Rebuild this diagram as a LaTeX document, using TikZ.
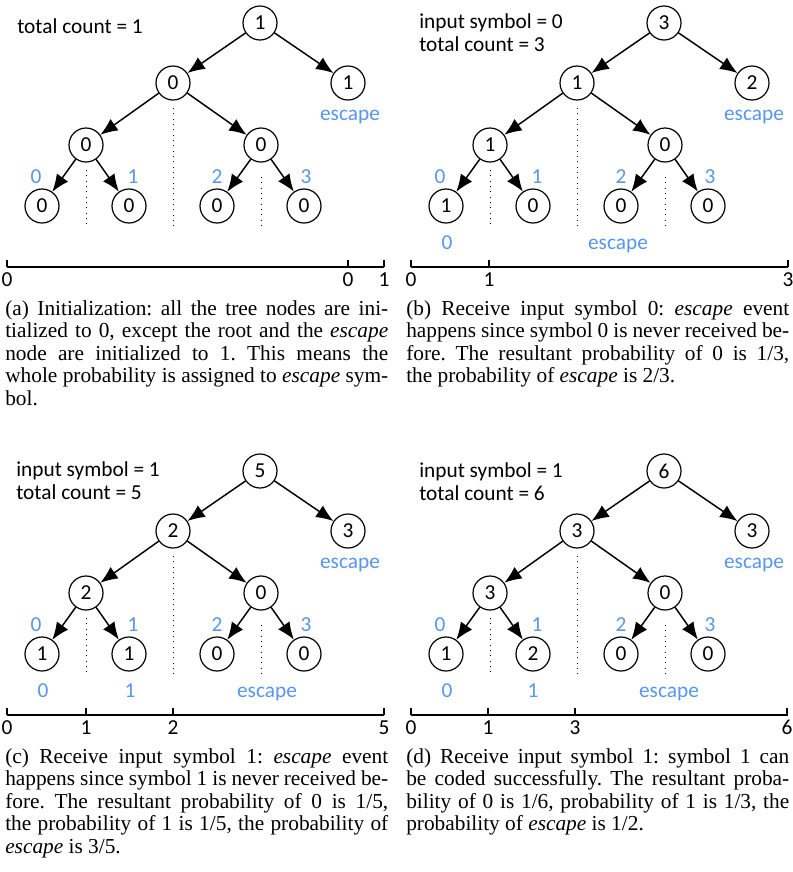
\documentclass[tikz,border=0pt]{standalone}
\usepackage{fontspec}
\setmainfont{Liberation Serif}
\newfontfamily\sansf{Carlito}
\usetikzlibrary{arrows.meta}
\frenchspacing
\definecolor{escblue}{RGB}{88,150,240}
\tikzset{
  cnode/.style={circle,draw,line width=0.9pt,minimum size=25.5pt,inner sep=0pt,font=\sansf\fontsize{16}{19}\selectfont},
  treeedge/.style={line width=1.1pt,-{Latex[length=13pt,width=10.5pt]}},
  divider/.style={line width=0.7pt,dash pattern=on 0.6pt off 3.4pt},
  bluelab/.style={anchor=base,text=escblue,font=\sansf\fontsize{16}{19}\selectfont,inner sep=0pt},
  info/.style={anchor=base west,font=\sansf\fontsize{16}{19}\selectfont,inner sep=0pt},
  axisline/.style={line width=1pt},
  axislab/.style={anchor=base,font=\sansf\fontsize{16}{19}\selectfont,inner sep=0pt},
  capline/.style={anchor=base west,inner sep=0pt,font=\fontsize{16}{17}\selectfont},
}
\newcommand\drawtree[9]{%
  \node[cnode] (r) at (260,23) {#1};
  \node[cnode] (l) at (173,83) {#2};
  \node[cnode] (e) at (348,83) {#3};
  \node[cnode] (la) at (86,145) {#4};
  \node[cnode] (lb) at (261,145) {#5};
  \node[cnode] (s0) at (42,206) {#6};
  \node[cnode] (s1) at (129,206) {#7};
  \node[cnode] (s2) at (217,206) {#8};
  \node[cnode] (s3) at (304,206) {#9};
  \draw[treeedge] (r) -- (l);
  \draw[treeedge] (r) -- (e);
  \draw[treeedge] (l) -- (la);
  \draw[treeedge] (l) -- (lb);
  \draw[treeedge] (la) -- (s0);
  \draw[treeedge] (la) -- (s1);
  \draw[treeedge] (lb) -- (s2);
  \draw[treeedge] (lb) -- (s3);
  \node[bluelab] (esc) at (350,120) {escape};
  \node[bluelab] (t0) at (36,183) {0};
  \node[bluelab] (t1) at (133,183) {1};
  \node[bluelab] (t2) at (217,183) {2};
  \node[bluelab] (t3) at (306,183) {3};
  \draw[divider] (86,170) -- (86,228);
  \draw[divider] (173,108) -- (173,228);
  \draw[divider] (261,177) -- (261,228);
  \coordinate (axA) at (7,267);
  \coordinate (axB) at (384,267);
  \draw[axisline] (axA) -- (axB);
}
\newcommand\axtick[3]{%
  \draw[axisline] (#1,260) -- (#1,267);
  \node[axislab] (#3) at (#1,286) {#2};
}
\newcommand\capfull[4]{\node[capline] (#1) at (#2,#3) {\makebox[287.25pt][s]{#4}};}
\newcommand\caplast[4]{\node[capline] (#1) at (#2,#3) {\makebox[287.25pt][l]{#4}};}
\begin{document}
\begin{tikzpicture}[x=0.75pt,y=-0.75pt]
\fill[white] (0,0) rectangle (793,872);
\useasboundingbox (0,0) rectangle (793,872);

% (a)
\begin{scope}[name prefix=a-]
  \drawtree{1}{0}{1}{0}{0}{0}{0}{0}{0}
  \node[info] (i1) at (17,33.5) {total count = 1};
  \axtick{7}{0}{k0}
  \axtick{348}{0}{k1}
  \axtick{384}{1}{k2}
\end{scope}

% (b)
\begin{scope}[shift={(404,0)},name prefix=b-]
  \drawtree{3}{1}{2}{1}{0}{1}{0}{0}{0}
  \node[info] (i1) at (15,28) {input symbol = 0};
  \node[info] (i2) at (15,51) {total count = 3};
  \node[bluelab] (u0) at (43,249) {0};
  \node[bluelab] (ue) at (214,249) {escape};
  \axtick{7}{0}{k0}
  \axtick{85}{1}{k1}
  \axtick{384}{3}{k2}
\end{scope}

% (c)
\begin{scope}[shift={(0,448)},name prefix=c-]
  \drawtree{5}{2}{3}{2}{0}{1}{1}{0}{0}
  \node[info] (i1) at (16,28.5) {input symbol = 1};
  \node[info] (i2) at (16,51) {total count = 5};
  \node[bluelab] (u0) at (43,249) {0};
  \node[bluelab] (u1) at (130,249) {1};
  \node[bluelab] (ue) at (267,249) {escape};
  \axtick{7}{0}{k0}
  \axtick{86}{1}{k1}
  \axtick{173}{2}{k2}
  \axtick{384}{5}{k3}
\end{scope}

% (d)
\begin{scope}[shift={(404,448)},name prefix=d-]
  \drawtree{6}{3}{3}{3}{0}{1}{2}{0}{0}
  \node[info] (i1) at (15,29) {input symbol = 1};
  \node[info] (i2) at (15,52) {total count = 6};
  \node[bluelab] (u0) at (43,249) {0};
  \node[bluelab] (u1) at (129,249) {1};
  \node[bluelab] (ue) at (265,249) {escape};
  \axtick{7}{0}{k0}
  \axtick{84}{1}{k1}
  \axtick{171}{3}{k2}
  \axtick{383}{6}{k3}
\end{scope}

% captions
\capfull{ca1}{5}{315}{(a) Initialization: all the tree nodes are ini-}
\capfull{ca2}{5}{337.5}{tialized to 0, except the root and the \textit{escape}}
\capfull{ca3}{5}{360}{node are initialized to 1. This means the}
\capfull{ca4}{5}{382.5}{whole probability is assigned to \textit{escape} sym-}
\caplast{ca5}{5}{405}{bol.}

\capfull{cb1}{406}{315}{(b) Receive input symbol 0: \textit{escape} event}
\capfull{cb2}{406}{337.5}{happens since symbol 0 is never received be-}
\capfull{cb3}{406}{360}{fore. The resultant probability of 0 is 1/3,}
\caplast{cb4}{406}{382.5}{the probability of \textit{escape} is 2/3.}

\capfull{cc1}{5}{763}{(c) Receive input symbol 1: \textit{escape} event}
\capfull{cc2}{5}{785.5}{happens since symbol 1 is never received be-}
\capfull{cc3}{5}{808}{fore. The resultant probability of 0 is 1/5,}
\capfull{cc4}{5}{830.5}{the probability of 1 is 1/5, the probability of}
\caplast{cc5}{5}{853}{\textit{escape} is 3/5.}

\capfull{cd1}{406}{763}{(d) Receive input symbol 1: symbol 1 can}
\capfull{cd2}{406}{785.5}{be coded successfully. The resultant proba-}
\capfull{cd3}{406}{808}{bility of 0 is 1/6, probability of 1 is 1/3, the}
\caplast{cd4}{406}{830.5}{probability of \textit{escape} is 1/2.}
\end{tikzpicture}
\end{document}
